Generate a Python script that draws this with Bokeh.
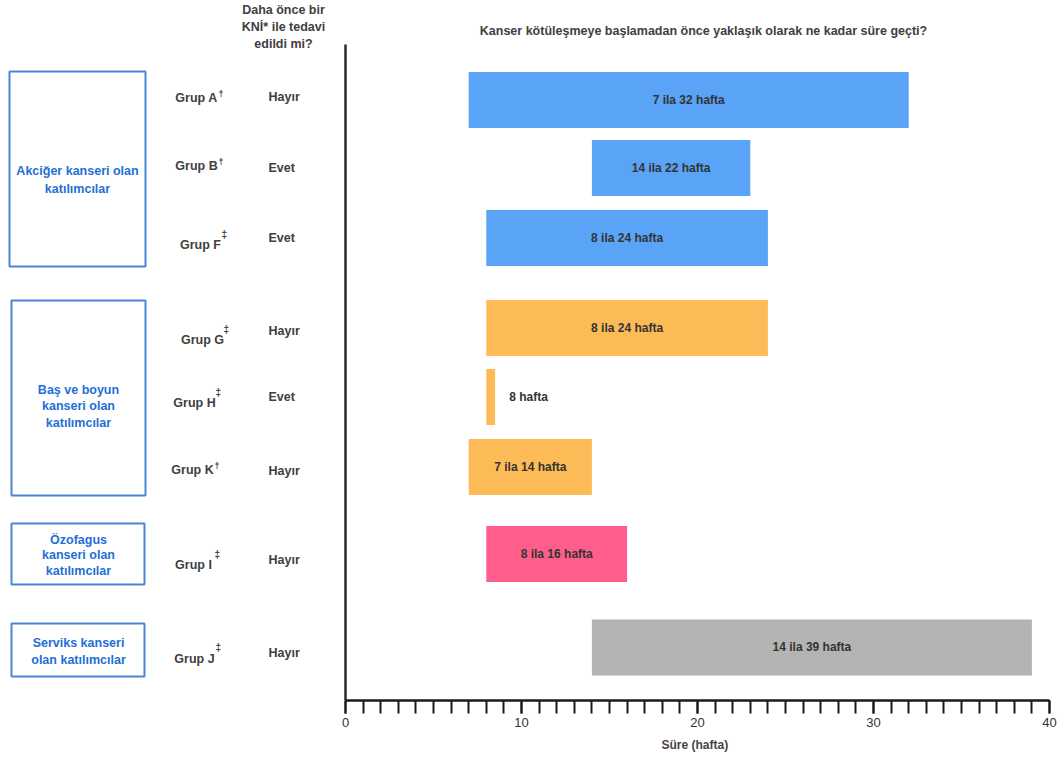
from bokeh.plotting import figure
from bokeh.models import Range1d, LinearAxis, FixedTicker, Title
from bokeh.core.properties import value
from bokeh.embed import file_html
from bokeh.resources import INLINE

# ---------------- data ----------------
groups = ["Grup A", "Grup B", "Grup F", "Grup G", "Grup H", "Grup K", "Grup I", "Grup J"]
marks = ["†", "†", "‡", "‡", "‡", "†", "‡", "‡"]
prior_ici = ["Hayır", "Evet", "Evet", "Hayır", "Evet", "Hayır", "Hayır", "Hayır"]
start_wk = [7, 14, 8, 8, 8, 7, 8, 14]
end_wk = [32, 23, 24, 24, 8.5, 14, 16, 39]
bar_labels = ["7 ila 32 hafta", "14 ila 22 hafta", "8 ila 24 hafta", "8 ila 24 hafta",
              "8 hafta", "7 ila 14 hafta", "8 ila 16 hafta", "14 ila 39 hafta"]
cancer = ["lung", "lung", "lung", "hn", "hn", "hn", "eso", "cerv"]
cancer_colors = {"lung": "#59a4f6", "hn": "#fdbb58", "eso": "#ff5e8c", "cerv": "#b4b4b4"}
x_ticks = [0, 10, 20, 30, 40]
title = "Kanser kötüleşmeye başlamadan önce yaklaşık olarak ne kadar süre geçti?"
col_header = ["Daha önce bir", "KNİ* ile tedavi", "edildi mi?"]
x_label = "Süre (hafta)"

# ---------------- layout ----------------
W, H = 1060, 765
PX0, SCALE = 345.0, 17.6  # pixel of x=0, pixels per week


def X(px):
    return (px - PX0) / SCALE


row_y = [99.5, 167.5, 237.5, 327.5, 396.5, 466.5, 553.5, 647]
bar_h = 56

FONT = value("Liberation Sans")
DARK = "#404040"
BLUE = "#1f6fd6"

p = figure(width=W, height=H, output_backend="svg", toolbar_location=None,
           x_range=Range1d(X(0), X(W)), y_range=Range1d(700, 0),
           min_border_left=0, min_border_right=0, min_border_top=0, min_border_bottom=65,
           x_axis_type=None, y_axis_type=None)
p.grid.visible = False
p.outline_line_color = None
p.background_fill_color = "white"
p.border_fill_color = "white"

# bars
colors = [cancer_colors[c] for c in cancer]
p.hbar(y=row_y, left=start_wk, right=end_wk, height=bar_h, fill_color=colors, line_color=None)

# bar labels
cx, ax = [], []
for s, e in zip(start_wk, end_wk):
    if e - s < 3:
        cx.append(e + 0.8)
        ax.append("left")
    else:
        cx.append((s + e) / 2)
        ax.append("center")
p.text(x=cx, y=[y - 0.5 for y in row_y], text=bar_labels, text_align=ax, text_baseline="middle",
       text_font=FONT, text_font_style="bold", text_font_size="12px", text_color="#333333")

# vertical axis line
p.segment(x0=[0], y0=[44], x1=[0], y1=[700], line_color="#2b2b2b", line_width=2.5)

# x axis
xa = LinearAxis(bounds=(0, 40),
                ticker=FixedTicker(ticks=x_ticks, minor_ticks=list(range(0, 41))))
xa.axis_line_width = 2.5
xa.axis_line_color = "#1a1a1a"
xa.major_tick_in = 0
xa.major_tick_out = 13
xa.minor_tick_in = 0
xa.minor_tick_out = 13
xa.major_tick_line_width = 2
xa.minor_tick_line_width = 2
xa.major_tick_line_color = "#1a1a1a"
xa.minor_tick_line_color = "#1a1a1a"
xa.major_label_text_font = "Liberation Sans"
xa.major_label_text_font_size = "13px"
xa.major_label_text_color = "#333333"
xa.major_label_standoff = 4
p.add_layout(xa, "below")

# axis title centred under the 0..40 span
x_mid_px = PX0 + 20 * SCALE
xt = Title(text=x_label, align="left", offset=x_mid_px - 36,
           text_font="Liberation Sans", text_font_style="bold", text_font_size="12px",
           text_color="#444444", standoff=12)
p.add_layout(xt, "below")

# title and column header
p.text(x=[X(703)], y=[30], text=[title], text_align="center", text_baseline="middle",
       text_font=FONT, text_font_style="bold", text_font_size="12.5px", text_color=DARK)
p.text(x=[X(283)] * 3, y=[9, 26, 43], text=col_header, text_align="center",
       text_baseline="middle", text_font=FONT, text_font_style="bold",
       text_font_size="12.5px", text_color=DARK)

# group labels
g_x = [196, 196, 200, 202, 194, 192, 193, 194]
g_dy = [-2, -2, 7, 12, 6, 3, 11, 11]
for g, m, y, gx, dy in zip(groups, marks, row_y, g_x, g_dy):
    p.text(x=[X(gx)], y=[y + dy], text=[g], text_align="center", text_baseline="middle",
           text_font=FONT, text_font_style="bold", text_font_size="12.5px", text_color=DARK)
    if m == "†":
        p.text(x=[X(gx + 22)], y=[y + dy - 4], text=[m], text_align="left", text_baseline="middle",
               text_font=FONT, text_font_style="bold", text_font_size="9px", text_color=DARK)
    else:
        p.text(x=[X(gx + 21)], y=[y + dy - 11], text=[m], text_align="left", text_baseline="middle",
               text_font=FONT, text_font_style="bold", text_font_size="10px", text_color=DARK)

# prior ICI answers
a_dy = [-3, 0, 0, 3, 0, 4, 6, 5]
p.text(x=[X(268)] * len(prior_ici), y=[y + d for y, d in zip(row_y, a_dy)], text=prior_ici,
       text_align="left", text_baseline="middle", text_font=FONT, text_font_style="bold",
       text_font_size="12.5px", text_color=DARK)

# cancer type boxes
box_left = [X(9), X(11), X(11), X(11)]
box_right = [X(145), X(145), X(144), X(144)]
box_top = [71, 300, 523, 623]
box_bottom = [266, 495, 584, 676]
p.quad(left=box_left, right=box_right, top=box_top, bottom=box_bottom,
       fill_color=None, line_color="#4a86d4", line_width=2)

box_lines = [
    (77, [170, 188], ["Akciğer kanseri olan", "katılımcılar"]),
    (78, [389, 405, 422], ["Baş ve boyun", "kanseri olan", "katılımcılar"]),
    (78, [539, 554, 570], ["Özofagus", "kanseri olan", "katılımcılar"]),
    (78, [642, 659], ["Serviks kanseri", "olan katılımcılar"]),
]
for bx, ys, lines in box_lines:
    p.text(x=[X(bx)] * len(lines), y=ys, text=lines, text_align="center", text_baseline="middle",
           text_font=FONT, text_font_style="bold", text_font_size="12.5px", text_color=BLUE)

open("out.html", "w").write(file_html(p, INLINE))
